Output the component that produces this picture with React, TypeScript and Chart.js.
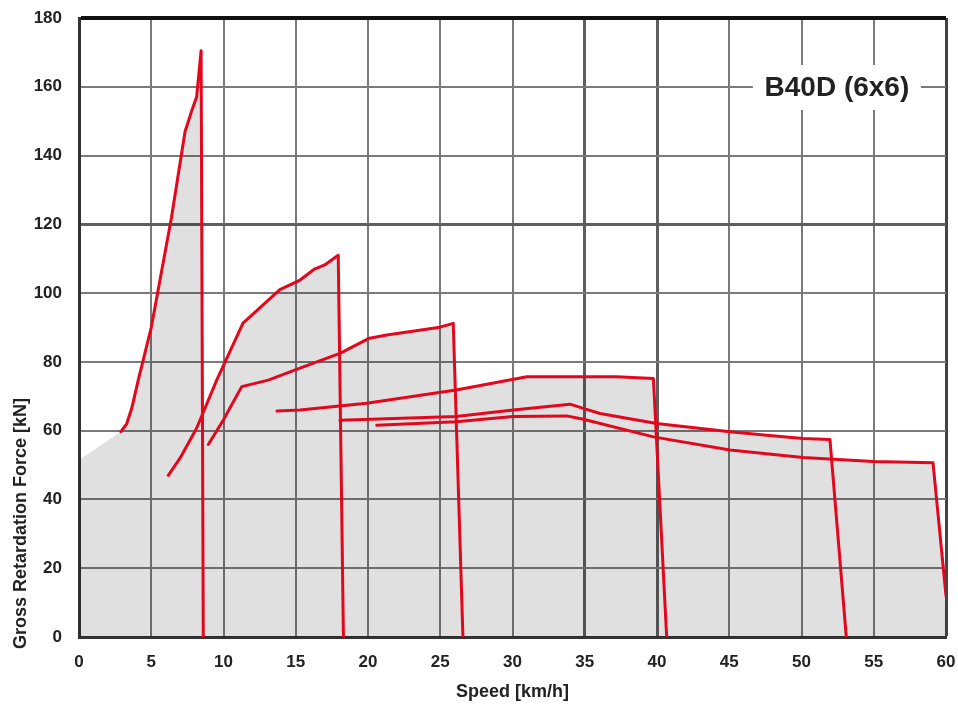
import React, { useEffect, useRef } from "react";
import { Chart, registerables } from "chart.js";

Chart.register(...registerables);

const chartTitle = "B40D (6x6)";
const xAxisTitle = "Speed [km/h]";
const yAxisTitle = "Gross Retardation Force [kN]";

const xMin = 0;
const xMax = 60;
const xStep = 5;
const yMin = 0;
const yMax = 180;
const yStep = 20;

const gear1Speed = [2.9, 3.3, 3.65, 4.1, 5.0, 6.4, 7.34, 7.8, 8.14, 8.45, 8.6];
const gear1Force = [59.7, 62, 66.5, 74.7, 90, 122, 147, 153, 157, 170.5, 0];

const gear2Speed = [6.18, 6.99, 8.14, 9.53, 11.35, 13.9, 15.3, 16.3, 17.0, 17.94, 18.3];
const gear2Force = [47, 52, 60.7, 74.7, 91.3, 101, 103.8, 107, 108.2, 111, 0];

const gear3Speed = [8.95, 9.99, 11.26, 13.1, 15.29, 18.06, 20.1, 21.3, 24.98, 25.9, 26.57];
const gear3Force = [56, 63.1, 72.8, 74.7, 78.2, 82.5, 86.9, 87.8, 90.1, 91.2, 0];

const gear4Speed = [13.7, 15.3, 19.9, 26.1, 31.0, 35.1, 37.2, 39.75, 40.67];
const gear4Force = [65.7, 66, 68, 71.8, 75.7, 75.7, 75.7, 75.2, 0];

const gear5Speed = [18.06, 26.1, 30.05, 33.98, 34.9, 36.06, 39.97, 45.05, 47.6, 50.1, 51.97, 53.1];
const gear5Force = [63, 64.1, 66, 67.7, 66.5, 65, 62.1, 59.7, 58.7, 57.7, 57.4, 0];

const gear6Speed = [20.6, 26.1, 30.05, 33.75, 34.9, 39.75, 45.05, 50.1, 54.97, 59.1, 60];
const gear6Force = [61.6, 62.6, 64.1, 64.3, 63.3, 58.2, 54.4, 52.2, 51, 50.7, 12];

const envelopeSpeed = [
  0, 2.9, 3.3, 3.65, 4.1, 5.0, 6.4, 7.34, 7.8, 8.14, 8.45, 8.55,
  9.53, 11.35, 13.9, 15.3, 16.3, 17.0, 17.94, 18.2,
  20.1, 21.3, 24.98, 25.9, 26.1,
  31.0, 35.1, 37.2, 39.75, 39.9,
  45.05, 47.6, 50.1, 51.97, 52.1,
  54.97, 59.1, 60,
];
const envelopeForce = [
  51.5, 59.7, 62, 66.5, 74.7, 90, 122, 147, 153, 157, 170.5, 64.8,
  74.7, 91.3, 101, 103.8, 107, 108.2, 111, 82.5,
  86.9, 87.8, 90.1, 91.2, 71.8,
  75.7, 75.7, 75.7, 75.2, 62.1,
  59.7, 58.7, 57.7, 57.4, 51.6,
  51, 50.7, 12,
];

const FONT = "'Liberation Sans', Arial, Helvetica, sans-serif";
const RED = "#e3071d";

const toPoints = (xs: number[], ys: number[]) => xs.map((x, i) => ({ x, y: ys[i] }));

const gearLine = (label: string, xs: number[], ys: number[]) => ({
  label,
  data: toPoints(xs, ys),
  borderColor: RED,
  borderWidth: 3,
  pointRadius: 0,
  tension: 0,
  fill: false,
  showLine: true,
  borderJoinStyle: "round" as const,
  borderCapStyle: "round" as const,
});

const overlayPlugin = {
  id: "overlay",
  afterDraw(chart: any) {
    const { ctx, scales } = chart;
    const xs = scales.x;
    const ys = scales.y;
    const cx = xs.getPixelForValue(52.45);
    const cy = ys.getPixelForValue(159.8);
    ctx.save();
    ctx.fillStyle = "#ffffff";
    ctx.fillRect(cx - 84, cy - 22.5, 168, 45);
    ctx.fillStyle = "#222222";
    ctx.font = `bold 28px ${FONT}`;
    ctx.textAlign = "center";
    ctx.textBaseline = "middle";
    ctx.fillText(chartTitle, cx, cy + 1);
    ctx.restore();
    ctx.save();
    ctx.translate(21, 523.5);
    ctx.rotate(-Math.PI / 2);
    ctx.fillStyle = "#222222";
    ctx.font = `bold 18px ${FONT}`;
    ctx.textAlign = "center";
    ctx.textBaseline = "middle";
    ctx.fillText(yAxisTitle, 0, 0);
    ctx.restore();
  },
};

export default function App() {
  const canvasRef = useRef<HTMLCanvasElement | null>(null);

  useEffect(() => {
    if (!canvasRef.current) return;
    const chart = new Chart(canvasRef.current, {
      type: "scatter",
      data: {
        datasets: [
          gearLine("Gear 1", gear1Speed, gear1Force),
          gearLine("Gear 2", gear2Speed, gear2Force),
          gearLine("Gear 3", gear3Speed, gear3Force),
          gearLine("Gear 4", gear4Speed, gear4Force),
          gearLine("Gear 5", gear5Speed, gear5Force),
          gearLine("Gear 6", gear6Speed, gear6Force),
          {
            label: "Envelope",
            data: toPoints(envelopeSpeed, envelopeForce),
            borderWidth: 0,
            borderColor: "rgba(0,0,0,0)",
            backgroundColor: "rgba(0,0,0,0.12)",
            pointRadius: 0,
            tension: 0,
            showLine: true,
            fill: "origin",
          } as any,
        ],
      },
      options: {
        responsive: false,
        animation: false,
        layout: { padding: { left: 0, top: 18, right: 12, bottom: 0 } },
        plugins: {
          legend: { display: false },
          tooltip: { enabled: false },
          title: { display: false },
        },
        scales: {
          x: {
            type: "linear",
            min: xMin,
            max: xMax,
            afterFit: (scale: any) => {
              scale.height = 69;
              scale.paddingLeft = 0;
              scale.paddingRight = 0;
            },
            ticks: {
              stepSize: xStep,
              padding: 15,
              color: "#222222",
              font: { family: FONT, size: 17, weight: "bold" },
            },
            grid: {
              drawTicks: false,
              color: (c: any) => {
                const v = c.tick && c.tick.value;
                if (v === 35 || v === 40) return "#5e5e5e";
                if (v === 60) return "#444444";
                return "#7a7a7a";
              },
              lineWidth: (c: any) => {
                const v = c.tick && c.tick.value;
                if (v === 35 || v === 40) return 3;
                if (v === 60) return 3;
                return 2;
              },
            },
            border: { display: true, color: "#333333", width: 3 },
            title: {
              display: true,
              text: xAxisTitle,
              color: "#222222",
              font: { family: FONT, size: 18, weight: "bold" },
              padding: { top: 0, bottom: 3 },
            },
          },
          y: {
            type: "linear",
            min: yMin,
            max: yMax,
            afterFit: (scale: any) => {
              scale.width = 79;
              scale.paddingTop = 0;
              scale.paddingBottom = 0;
            },
            ticks: {
              stepSize: yStep,
              padding: 17,
              color: "#222222",
              font: { family: FONT, size: 17, weight: "bold" },
            },
            grid: {
              drawTicks: false,
              color: (c: any) => {
                const v = c.tick && c.tick.value;
                if (v === 180) return "#111111";
                if (v === 120) return "#5e5e5e";
                return "#7a7a7a";
              },
              lineWidth: (c: any) => {
                const v = c.tick && c.tick.value;
                if (v === 180) return 4;
                if (v === 120) return 3;
                return 2;
              },
            },
            border: { display: true, color: "#333333", width: 3 },
          },
        },
      } as any,
      plugins: [overlayPlugin],
    });
    return () => chart.destroy();
  }, []);

  return (
    <div style={{ position: "absolute", left: 0, top: 0, width: 958, height: 706, background: "#ffffff" }}>
      <canvas ref={canvasRef} width={958} height={706} style={{ display: "block", width: 958, height: 706 }} />
    </div>
  );
}
